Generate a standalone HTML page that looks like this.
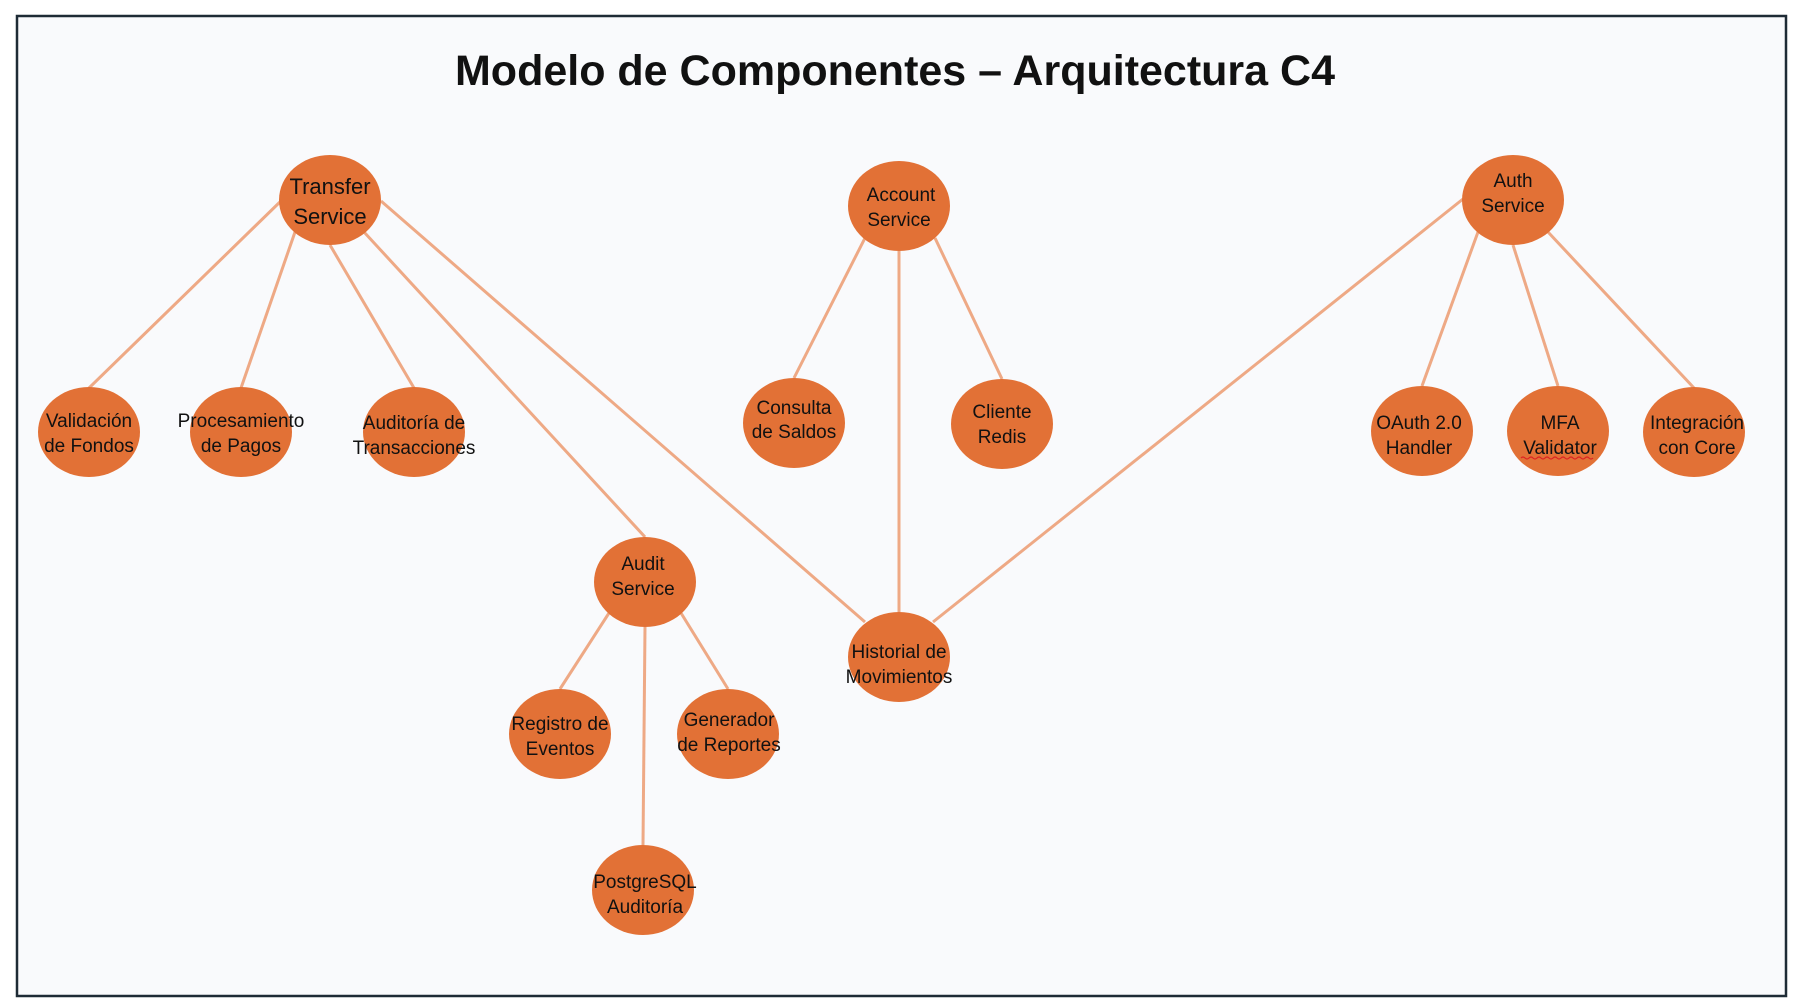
<!DOCTYPE html>
<html><head><meta charset="utf-8"><style>
html,body{margin:0;padding:0;background:#fff;}
svg{display:block}
text{font-family:"Liberation Sans",sans-serif;fill:#111;text-anchor:middle}
</style></head><body>
<svg width="1799" height="1008" viewBox="0 0 1799 1008" xmlns="http://www.w3.org/2000/svg">
<rect x="17" y="16" width="1769" height="980" fill="#F9FAFC" stroke="#1E2B35" stroke-width="2.5"/>
<text x="895" y="85" font-size="43" font-weight="bold">Modelo de Componentes –  Arquitectura C4</text>
<g stroke="#EEA985" stroke-width="3" fill="none">
<line x1="283" y1="199" x2="89" y2="388"/>
<line x1="295" y1="232" x2="241" y2="388"/>
<line x1="330" y1="245" x2="414" y2="388"/>
<line x1="364" y1="232" x2="645" y2="537"/>
<line x1="381" y1="201" x2="865" y2="622"/>
<line x1="865" y1="238" x2="794" y2="378"/>
<line x1="899" y1="251" x2="899" y2="612"/>
<line x1="935" y1="238" x2="1002" y2="379"/>
<line x1="1463" y1="199" x2="933" y2="622"/>
<line x1="1478" y1="232" x2="1422" y2="386"/>
<line x1="1513" y1="245" x2="1558" y2="386"/>
<line x1="1548" y1="232" x2="1694" y2="388"/>
<line x1="609" y1="613" x2="560" y2="689"/>
<line x1="645" y1="627" x2="643" y2="845"/>
<line x1="681" y1="613" x2="728" y2="689"/>
</g>
<g fill="#E27136">
<ellipse cx="330" cy="200" rx="51" ry="45"/>
<ellipse cx="899" cy="206" rx="51" ry="45"/>
<ellipse cx="1513" cy="200" rx="51" ry="45"/>
<ellipse cx="89" cy="432" rx="51" ry="45"/>
<ellipse cx="241" cy="432" rx="51" ry="45"/>
<ellipse cx="414" cy="432" rx="51" ry="45"/>
<ellipse cx="794" cy="423" rx="51" ry="45"/>
<ellipse cx="1002" cy="424" rx="51" ry="45"/>
<ellipse cx="1422" cy="431" rx="51" ry="45"/>
<ellipse cx="1558" cy="431" rx="51" ry="45"/>
<ellipse cx="1694" cy="432" rx="51" ry="45"/>
<ellipse cx="645" cy="582" rx="51" ry="45"/>
<ellipse cx="899" cy="657" rx="51" ry="45"/>
<ellipse cx="560" cy="734" rx="51" ry="45"/>
<ellipse cx="728" cy="734" rx="51" ry="45"/>
<ellipse cx="643" cy="890" rx="51" ry="45"/>
</g>
<g font-size="19">
<text x="330" y="194" font-size="22">Transfer</text><text x="330" y="224" font-size="22">Service</text>
<text x="901" y="201">Account</text><text x="899" y="226">Service</text>
<text x="1513" y="187">Auth</text><text x="1513" y="212">Service</text>
<text x="89" y="427">Validación</text><text x="89" y="452">de Fondos</text>
<text x="241" y="427">Procesamiento</text><text x="241" y="452">de Pagos</text>
<text x="414" y="429">Auditoría de</text><text x="414" y="454">Transacciones</text>
<text x="794" y="414">Consulta</text><text x="794" y="438">de Saldos</text>
<text x="1002" y="418">Cliente</text><text x="1002" y="443">Redis</text>
<text x="1419" y="429">OAuth 2.0</text><text x="1419" y="454">Handler</text>
<text x="1560" y="429">MFA</text><text x="1560" y="454">Validator</text>
<text x="1697" y="429">Integración</text><text x="1697" y="454">con Core</text>
<text x="643" y="570">Audit</text><text x="643" y="595">Service</text>
<text x="899" y="658">Historial de</text><text x="899" y="683">Movimientos</text>
<text x="560" y="730">Registro de</text><text x="560" y="755">Eventos</text>
<text x="729" y="726">Generador</text><text x="729" y="751">de Reportes</text>
<text x="645" y="888">PostgreSQL</text><text x="645" y="913">Auditoría</text>
</g>
<path d="M1521 458 q2 -2 4 0 t4 0 t4 0 t4 0 t4 0 t4 0 t4 0 t4 0 t4 0 t4 0 t4 0 t4 0 t4 0 t4 0 t4 0 t4 0 t4 0 t4 0" stroke="#d22" stroke-width="1.2" fill="none"/>
</svg>
</body></html>
